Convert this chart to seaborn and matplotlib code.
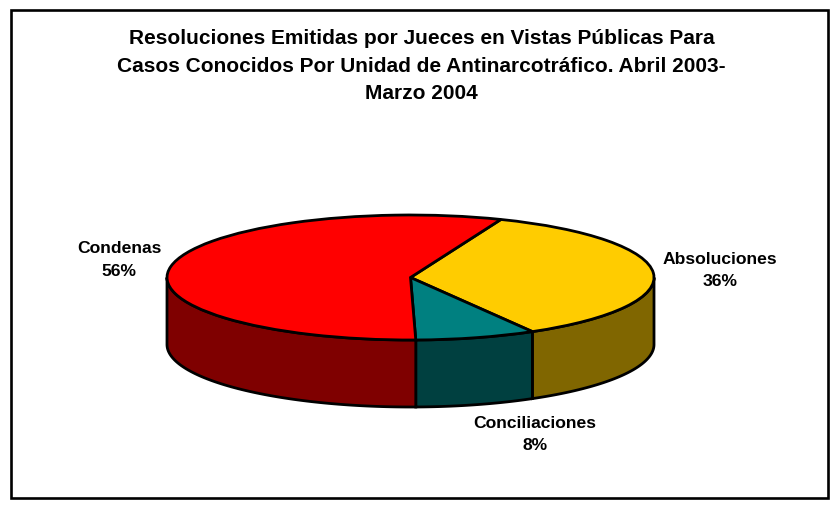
import numpy as np
import seaborn as sns
from matplotlib import pyplot as plt
from matplotlib.patches import Rectangle

# Data (clockwise from the start angle)
categories = ['Absoluciones', 'Conciliaciones', 'Condenas']
values = [35.6, 8.0, 56.4]
percent_labels = ['36%', '8%', '56%']
top_colors = ['#FFCC00', '#008080', '#FF0000']
side_colors = ['#806600', '#004040', '#7F0000']
title_lines = ['Resoluciones Emitidas por Jueces en Vistas Públicas Para',
               'Casos Conocidos Por Unidad de Antinarcotráfico. Abril 2003-',
               'Marzo 2004']

START_ANGLE = 68.2
DEPTH = 67 / 62.5  # wall height, in units of the squashed radius
W, H = 830, 515

sns.set_theme(style='white')
plt.rcParams['font.family'] = ['Liberation Sans', 'DejaVu Sans']

fig = plt.figure(figsize=(W / 100, H / 100), dpi=100, facecolor='white')

# Axes placed so the unit circle turns into the flat ellipse
ax = fig.add_axes([167 / W, (H - 407) / H, 487 / W, 192 / H])

wedges, _ = ax.pie(values, colors=top_colors, startangle=START_ANGLE, counterclock=False,
                   wedgeprops={'edgecolor': 'black', 'linewidth': 2.0, 'zorder': 5})
ax.set_aspect('auto')
ax.set_xlim(-1, 1)
ax.set_ylim(-1 - DEPTH, 1)
ax.axis('off')

# Side walls for the front half of the pie
edges = START_ANGLE - np.cumsum([0] + values) * 3.6
for i, c in enumerate(side_colors):
    a1 = max(edges[i + 1], -180)
    a2 = min(edges[i], 0)
    if a1 >= a2:
        continue
    t = np.radians(np.linspace(a1, a2, 80))
    xs = np.concatenate([np.cos(t), np.cos(t)[::-1]])
    ys = np.concatenate([np.sin(t), np.sin(t)[::-1] - DEPTH])
    ax.fill(xs, ys, facecolor=c, edgecolor='black', linewidth=2.0, zorder=2, clip_on=False)

# Chart border
fig.add_artist(Rectangle((11 / W, (H - 498) / H), 817 / W, 488 / H, transform=fig.transFigure,
                         facecolor='none', edgecolor='black', linewidth=1.9))

# Title
for line, y in zip(title_lines, [44, 72, 99]):
    fig.text(421.5 / W, (H - y) / H, line, ha='center', va='baseline',
             fontsize=15.05, fontweight='bold', color='black')

# Slice labels
label_pos = [(720, 270.5), (535, 434.5), (119, 260)]
for name, pct, (x, y) in zip(categories, percent_labels, label_pos):
    fig.text(x / W, (H - y) / H, name + '\n' + pct, ha='center', va='center',
             fontsize=12.6, fontweight='bold', color='black', linespacing=1.62)

fig.savefig('out.png', dpi=100)
